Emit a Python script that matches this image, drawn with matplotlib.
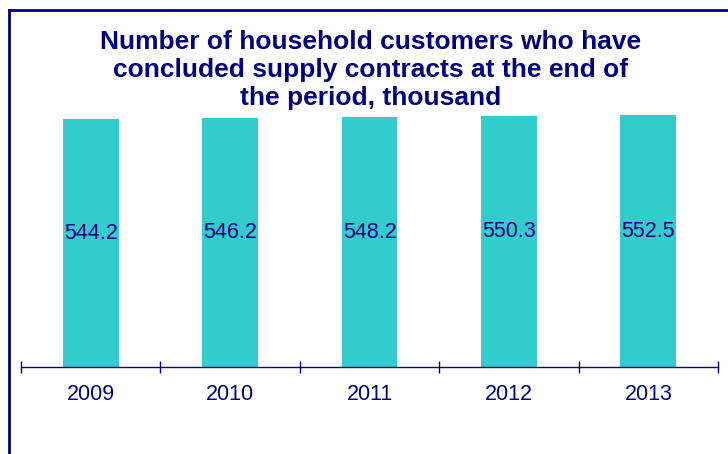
import numpy as np
import matplotlib
matplotlib.use("Agg")
from matplotlib import pyplot as plt
from matplotlib.lines import Line2D

years = ["2009", "2010", "2011", "2012", "2013"]
customers = [544.2, 546.2, 548.2, 550.3, 552.5]

navy = "#000080"
bar_colour = "#33CCCC"

plt.rcParams['font.family'] = ['Liberation Sans', 'DejaVu Sans']

fig = plt.figure(figsize=(7.28, 4.54), dpi=100)
ax = fig.add_axes([0.029, 0.1916, 0.9573, 0.602])

x = np.arange(len(years))
ax.bar(x, customers, width=0.4, color=bar_colour)

# value labels inside the bars
for i, v in enumerate(customers):
    ax.text(x[i], v * 0.54, f"{v:.1f}", ha="center", va="center",
            color=navy, fontsize=15.5)

ax.set_xlim(-0.5, len(years) - 0.5)
ax.set_ylim(0, 600)

ax.set_xticks(x)
ax.set_xticklabels(years, fontsize=15.5, color=navy)
ax.set_xticks(np.arange(-0.5, len(years)), minor=True)
ax.tick_params(axis="x", which="major", length=0, pad=12)
ax.tick_params(axis="x", which="minor", direction="inout", length=9, width=1, color=navy)
ax.set_yticks([])

for side in ["top", "right", "left"]:
    ax.spines[side].set_visible(False)
ax.spines["bottom"].set_color(navy)
ax.spines["bottom"].set_linewidth(1)

fig.text(0.509, 1 - 30 / 454,
         "Number of household customers who have\nconcluded supply contracts at the end of\nthe period, thousand",
         ha="center", va="top", fontsize=19, fontweight="bold", color=navy)

# frame round the chart (only left and top edges visible)
fig.add_artist(Line2D([8.5 / 728, 8.5 / 728], [0, 1 - 10 / 454], color=navy, linewidth=2))
fig.add_artist(Line2D([8.5 / 728, 1], [1 - 10 / 454, 1 - 10 / 454], color=navy, linewidth=2))

fig.savefig("out.png", dpi=100)
